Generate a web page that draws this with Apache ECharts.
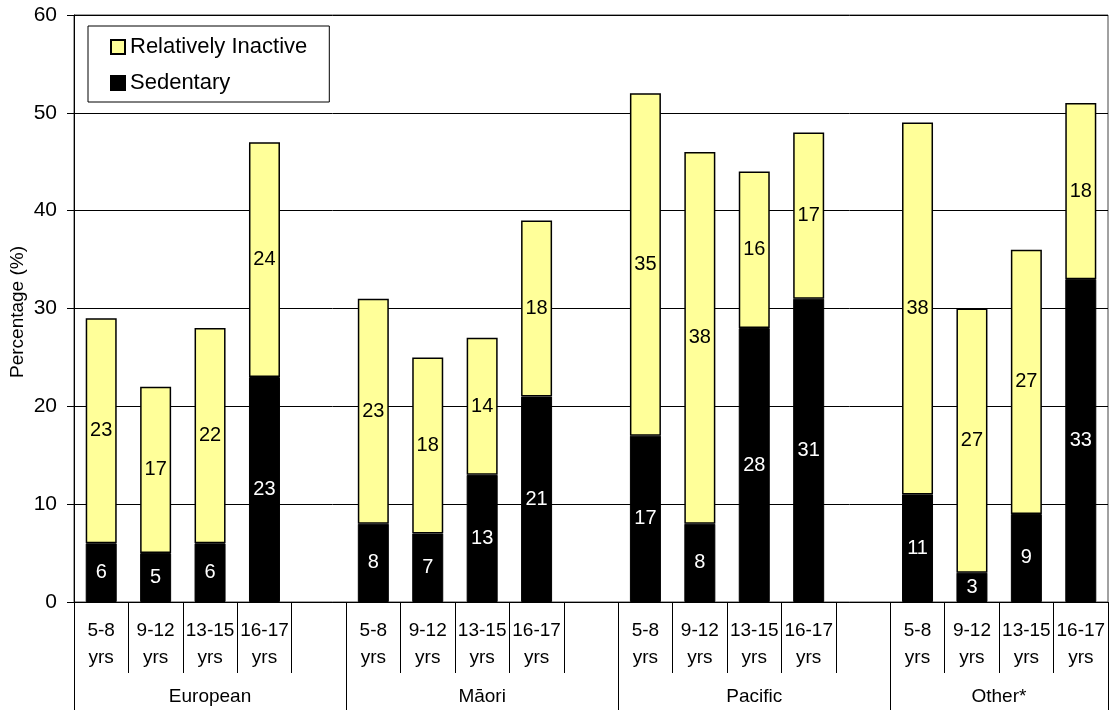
<!DOCTYPE html>
<html>
<head>
<meta charset="utf-8">
<script src="https://cdn.jsdelivr.net/npm/echarts@6/dist/echarts.min.js"></script>
<style>
  html, body { margin: 0; padding: 0; background: #fff; }
  #chart { width: 1110px; height: 710px; }
</style>
</head>
<body>
<div id="chart"></div>
<script>
// Age bands within each ethnic group
const ageBands = ['5-8\nyrs', '9-12\nyrs', '13-15\nyrs', '16-17\nyrs'];
const groups = ['European', 'Māori', 'Pacific', 'Other*'];

// Percentages per group, in age-band order
const sedentary = {
  'European': [6, 5, 6, 23],
  'Māori':    [8, 7, 13, 21],
  'Pacific':  [17, 8, 28, 31],
  'Other*':   [11, 3, 9, 33]
};
const relativelyInactive = {
  'European': [23, 17, 22, 24],
  'Māori':    [23, 18, 14, 18],
  'Pacific':  [35, 38, 16, 17],
  'Other*':   [38, 27, 27, 18]
};

const yTicks = { min: 0, max: 60, interval: 10 };
const yTitle = 'Percentage (%)';

// Build the flat category list: four bars per group, with an empty slot between groups
const categories = [];
const groupLabels = [];
const sedData = [];
const riData = [];
groups.forEach((g, gi) => {
  ageBands.forEach((a, ai) => {
    categories.push(a);
    groupLabels.push(ai === 1 && gi === groups.length - 1 ? g : (ai === 2 && gi < groups.length - 1 ? g : ''));
    sedData.push(sedentary[g][ai]);
    riData.push(relativelyInactive[g][ai]);
  });
  if (gi < groups.length - 1) {
    categories.push('');
    groupLabels.push('');
    sedData.push('-');
    riData.push('-');
  }
});
// Group starts (slot indices) for the long separator lines
const groupStarts = [0, 5, 10, 15];

const FONT = '"Liberation Sans", Arial, sans-serif';

const chart = echarts.init(document.getElementById('chart'), null, { renderer: 'canvas' });
chart.setOption({
  animation: false,
  backgroundColor: '#fff',
  textStyle: { fontFamily: FONT, color: '#000' },
  grid: {
    left: 74, right: 2, top: 15, bottom: 108,
    outerBoundsMode: 'none',
    containLabel: false,
    show: true, borderColor: '#444', borderWidth: 1
  },
  // Rotated y-axis title, centred on the plot height
  graphic: [{
    type: 'text',
    left: 8, top: 246,
    rotation: Math.PI / 2,
    style: { text: yTitle, fontSize: 19, fill: '#000', font: '19px ' + FONT }
  }],
  legend: {
    orient: 'vertical',
    left: 88, top: 26,
    padding: [10, 22, 8, 22],
    itemGap: 14,
    itemWidth: 14, itemHeight: 14,
    icon: 'rect',
    borderColor: '#000', borderWidth: 1,
    backgroundColor: '#fff',
    textStyle: { fontSize: 22, color: '#000', fontFamily: FONT },
    data: ['Relatively Inactive', 'Sedentary']
  },
  xAxis: [
    {
      type: 'category',
      data: categories,
      axisLine: { lineStyle: { color: '#000', width: 1 } },
      axisTick: { show: true, length: 71, interval: 0, lineStyle: { color: '#000' } },
      axisLabel: {
        interval: 0, margin: 15, fontSize: 19, lineHeight: 27,
        color: '#000', fontFamily: FONT
      }
    },
    {
      type: 'category',
      data: groupLabels,
      position: 'bottom',
      axisLine: { show: false },
      axisTick: {
        show: true, length: 108,
        interval: (i) => groupStarts.indexOf(i) >= 0,
        lineStyle: { color: '#000' }
      },
      axisLabel: {
        interval: 0, margin: 85, fontSize: 19, lineHeight: 20,
        color: '#000', fontFamily: FONT,
        formatter: (v) => v === 'Other*' ? '{o|' + v + '}' : v,
        rich: { o: { padding: [0, 0, 0, 54], fontSize: 19, fontFamily: FONT, color: '#000' } }
      }
    }
  ],
  yAxis: {
    type: 'value',
    min: yTicks.min, max: yTicks.max, interval: yTicks.interval,
    axisLine: { show: true, lineStyle: { color: '#000' } },
    axisTick: { show: true, length: 7, lineStyle: { color: '#000' } },
    axisLabel: { fontSize: 21, margin: 17, color: '#000', fontFamily: FONT },
    splitLine: { show: true, lineStyle: { color: '#000', width: 1 } }
  },
  series: [
    {
      name: 'Sedentary',
      type: 'bar',
      stack: 'total',
      barWidth: 31,
      data: sedData,
      itemStyle: { color: '#000', borderColor: '#000', borderWidth: 1 },
      label: { show: true, position: 'inside', color: '#fff', fontSize: 20, fontFamily: FONT }
    },
    {
      name: 'Relatively Inactive',
      type: 'bar',
      stack: 'total',
      barWidth: 31,
      data: riData,
      itemStyle: { color: '#FFFF99', borderColor: '#000', borderWidth: 1.5 },
      label: { show: true, position: 'inside', color: '#000', fontSize: 20, fontFamily: FONT }
    }
  ]
});
</script>
</body>
</html>
